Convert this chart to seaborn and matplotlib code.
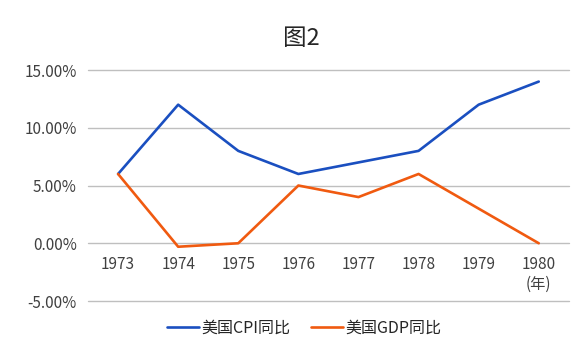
import matplotlib
matplotlib.use("Agg")
import matplotlib.pyplot as plt
import seaborn as sns
import pandas as pd
from matplotlib.ticker import FuncFormatter

years = ["1973", "1974", "1975", "1976", "1977", "1978", "1979", "1980"]
year_labels = ["1973", "1974", "1975", "1976", "1977", "1978", "1979", "1980\n(年)"]
cpi = [6.0, 12.0, 8.0, 6.0, 7.0, 8.0, 12.0, 14.0]
gdp = [6.0, -0.3, 0.0, 5.0, 4.0, 6.0, 3.0, 0.0]
series_names = ["美国CPI同比", "美国GDP同比"]
yticks = [-0.05, 0.0, 0.05, 0.10, 0.15]

sns.set_theme(style="white")
plt.rcParams['font.family'] = ['Noto Sans CJK SC', 'DejaVu Sans']

df = pd.DataFrame({
    "year": list(range(len(years))) * 2,
    "value": [v / 100 for v in cpi] + [v / 100 for v in gdp],
    "series": [series_names[0]] * len(years) + [series_names[1]] * len(years),
})

fig = plt.figure(figsize=(5.81, 3.45), dpi=100)
ax = fig.add_axes([0.1515, 0.1275, 0.8275, 0.6695])

sns.lineplot(data=df, x="year", y="value", hue="series", sort=False,
             palette=["#1a4fc0", "#f05a10"], linewidth=1.9, ax=ax, legend=True)

ax.set_xlim(-0.5, 7.5)
ax.set_ylim(-0.05, 0.15)
ax.set_yticks(yticks)
ax.yaxis.set_major_formatter(FuncFormatter(lambda v, p: f"{v*100:.2f}%"))
ax.set_xticks(range(len(years)))
ax.set_xticklabels(year_labels, linespacing=1.45)
ax.grid(axis="y", color="#bfbfbf", linewidth=1)
for gl in ax.get_ygridlines():
    gl.set_clip_on(False)
ax.set_axisbelow(True)
for s in ["top", "right", "left"]:
    ax.spines[s].set_visible(False)
ax.spines["bottom"].set_position(("data", 0))
ax.spines["bottom"].set_visible(False)
ax.tick_params(axis="both", length=0, labelsize=11, colors="#404040")
ax.tick_params(axis="y", pad=8)
ax.tick_params(axis="x", pad=9)
ax.set_xlabel("")
ax.set_ylabel("")

ax.legend(loc="lower center", bbox_to_anchor=(0.45, -0.215), ncol=2, frameon=False,
          fontsize=11.5, handlelength=2.0, handletextpad=0.15, columnspacing=1.3,
          labelcolor="#262626")

fig.text(0.518, 0.888, "图2", ha="center", va="center", fontsize=17, color="#262626")

fig.savefig("out.png", dpi=100)
